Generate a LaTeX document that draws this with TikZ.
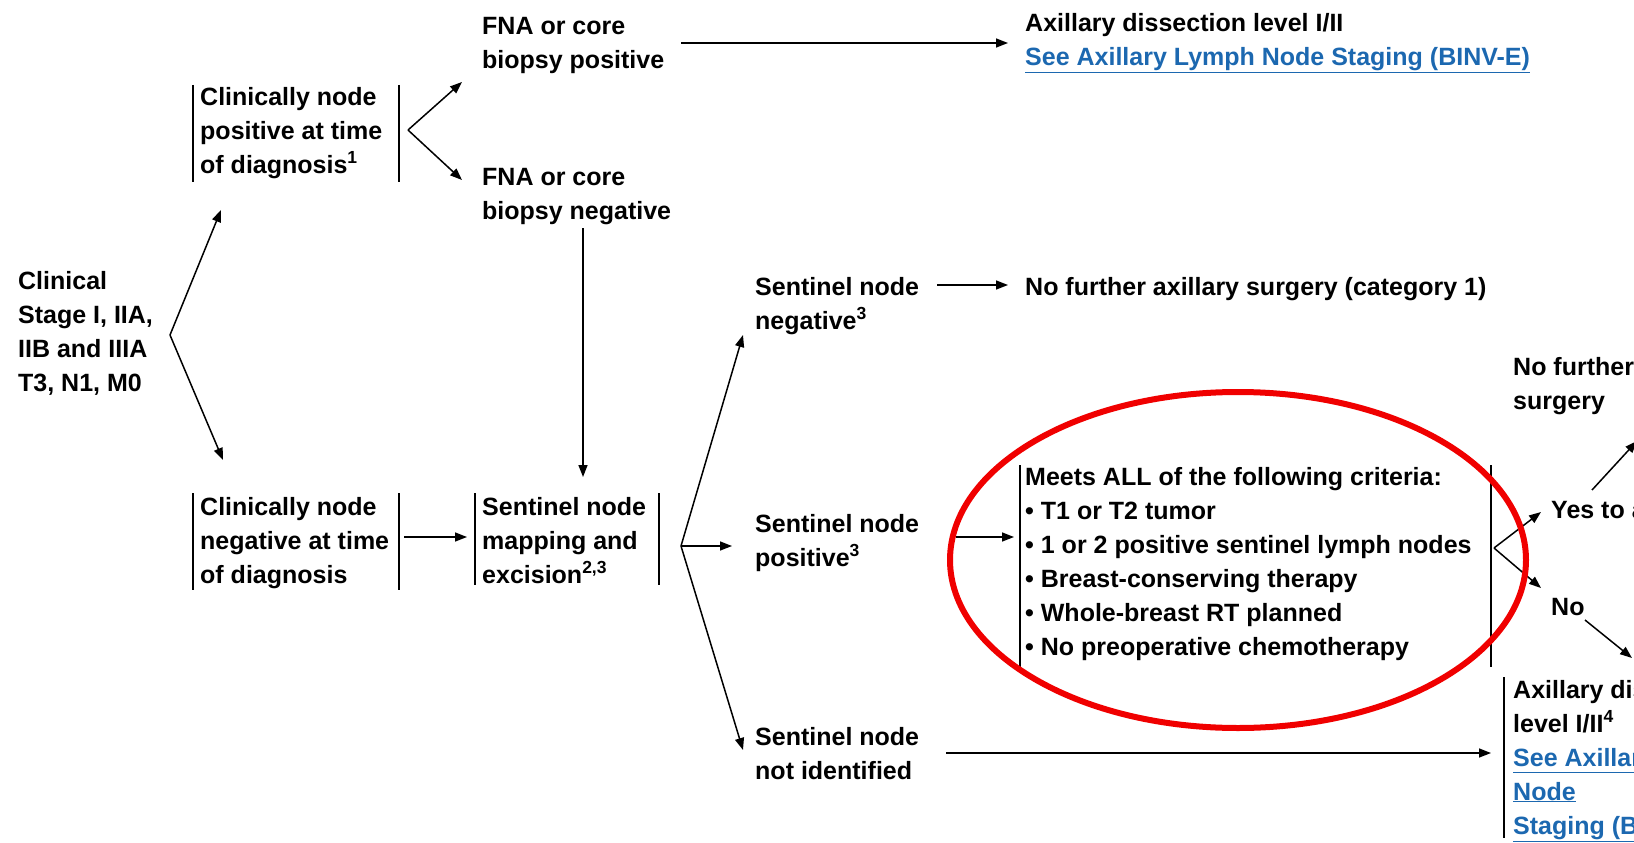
\documentclass[tikz,border=0pt]{standalone}
\usepackage{fontspec}
\setmainfont{Liberation Sans}
\usetikzlibrary{arrows.meta}
\definecolor{linkblue}{RGB}{28,104,176}
\definecolor{ringred}{RGB}{240,0,0}
\newcommand{\mylink}[1]{\textcolor{linkblue}{\underline{#1}}}
\begin{document}
\begin{tikzpicture}[x=1pt,y=-1pt,
  txt/.style={anchor=north west,inner sep=0pt,align=left,
    font=\fontsize{25}{34}\selectfont\bfseries},
  conn/.style={line width=1.5pt,-{Triangle[length=12pt,width=9pt]}},
  plain/.style={line width=1.5pt},
  bar/.style={line width=1.4pt}]
\useasboundingbox (0,0) rectangle (1634,843);
\clip (0,0) rectangle (1634,843);

% text nodes
\node[txt] (clin) at (18,265) {\strut Clinical\\Stage I, IIA,\\IIB and IIIA\\T3, N1, M0};
\node[txt] (cnp) at (200,81) {\strut Clinically node\\positive at time\\of diagnosis\textsuperscript{1}};
\node[txt] (fnapos) at (482,11) {\strut FNA or core\\biopsy positive};
\node[txt] (fnaneg) at (482,161) {\strut FNA or core\\biopsy negative};
\node[txt] (axd) at (1025,8) {\strut Axillary dissection level I/II\\\mylink{See Axillary Lymph Node Staging (BINV-E)}};
\node[txt] (cnn) at (200,491) {\strut Clinically node\\negative at time\\of diagnosis};
\node[txt] (snm) at (482,491) {\strut Sentinel node\\mapping and\\excision\textsuperscript{2,3}};
\node[txt] (snneg) at (755,271) {\strut Sentinel node\\negative\textsuperscript{3}};
\node[txt] (nfas) at (1025,271) {\strut No further axillary surgery (category 1)};
\node[txt] (snpos) at (755,508) {\strut Sentinel node\\positive\textsuperscript{3}};
\node[txt] (crit) at (1025,461) {\strut Meets ALL of the following criteria:\\• T1 or T2 tumor\\• 1 or 2 positive sentinel lymph nodes\\• Breast-conserving therapy\\• Whole-breast RT planned\\• No preoperative chemotherapy};
\node[txt] (yes) at (1551,494) {\strut Yes to all};
\node[txt] (no) at (1551,591) {\strut No};
\node[txt] (nfs) at (1513,351) {\strut No further axillary\\surgery};
\node[txt] (axd2) at (1513,674) {\strut Axillary dissection\\level I/II\textsuperscript{4}\\\mylink{See Axillary Lymph}\\\mylink{Node}\\\mylink{Staging (BINV-E)}};
\node[txt] (snni) at (755,721) {\strut Sentinel node\\not identified};

% bars around boxed texts
\draw[bar] (193,85) -- (193,182) (399,85) -- (399,182);
\draw[bar] (193,493) -- (193,590) (399,493) -- (399,590);
\draw[bar] (475,493) -- (475,585) (659,493) -- (659,585);
\draw[bar] (1020,465) -- (1020,667) (1491,465) -- (1491,667);
\draw[bar] (1504,677) -- (1504,838);

% fork points and free ends
\coordinate (v0) at (170,335);
\coordinate (t0a) at (221,210);
\coordinate (t0b) at (223,460);
\coordinate (v1) at (408,130);
\coordinate (t1a) at (462,82);
\coordinate (t1b) at (462,180);
\coordinate (v2) at (681,546);
\coordinate (t2a) at (743,335);
\coordinate (t2b) at (732,546);
\coordinate (t2c) at (743,750);
\coordinate (v3) at (1494,548);
\coordinate (t3a) at (1541,512);
\coordinate (t3b) at (1541,588);

% connectors
\draw[conn] (v0) -- (t0a);
\draw[conn] (v0) -- (t0b);
\draw[conn] (v1) -- (t1a);
\draw[conn] (v1) -- (t1b);
\draw[conn] (fnapos.east |- 686,43) ++(17,0) coordinate (a1s) -- (1008,43) coordinate (a1e);
\draw[conn] (583,228) coordinate (a2s) -- (583,477) coordinate (a2e);
\draw[conn] (404,537) coordinate (a3s) -- (467,537) coordinate (a3e);
\draw[conn] (v2) -- (t2a);
\draw[conn] (v2) -- (t2b);
\draw[conn] (v2) -- (t2c);
\draw[conn] (937,285) coordinate (a4s) -- (1008,285) coordinate (a4e);
\draw[conn] (956,537) coordinate (a5s) -- (1014,537) coordinate (a5e);
\draw[conn] (v3) -- (t3a);
\draw[conn] (v3) -- (t3b);
\draw[conn] (1592,490) coordinate (a6s) -- (1637,441) coordinate (a6e);
\draw[conn] (1585,620) coordinate (a7s) -- (1632,658) coordinate (a7e);
\draw[conn] (946,753) coordinate (a8s) -- (1491,753) coordinate (a8e);

% red highlight ring
\draw[ringred,line width=6pt] (1238,560) ellipse [x radius=288,y radius=168];
\end{tikzpicture}
\end{document}
